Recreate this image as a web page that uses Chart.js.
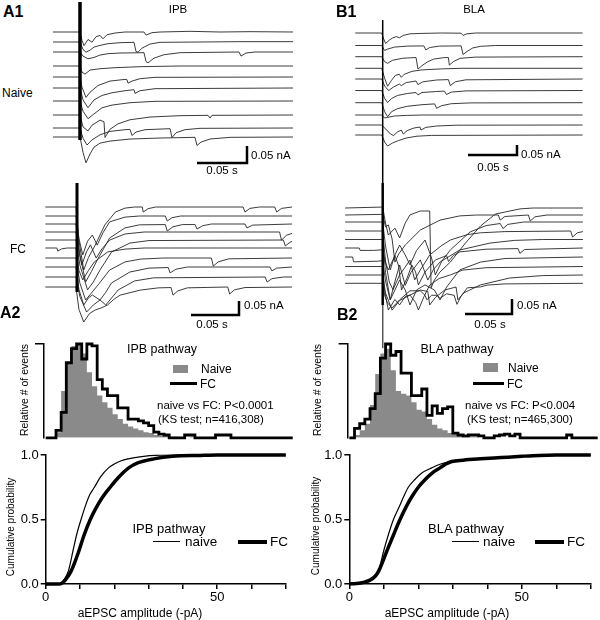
<!DOCTYPE html>
<html><head><meta charset="utf-8">
<script src="https://cdn.jsdelivr.net/npm/chart.js@4.4.0/dist/chart.umd.min.js"></script>
<style>
html,body{margin:0;padding:0;background:#fff}
body{width:600px;height:620px;position:relative;overflow:hidden;font-family:"Liberation Sans",Arial,Helvetica,sans-serif;color:#000}
canvas{position:absolute}
.t{position:absolute;white-space:nowrap;line-height:1}
.k{position:absolute}
</style></head><body>
<script>
// ===================== DATA =====================
// Traces: [time (ms, stimulus at 0), current (pA)]
const ipbNaiveTraces = [
 [[-27,0],[0,0],[2,-25],[4,-40],[8,-22],[12,-30],[16,-14],[20,-10],[23,-20],[27,-8],[35,-3],[45,0],[64,0],[66,-9],[72,-2],[80,0],[110,2],[140,0],[170,1],[213,0]],
 [[-27,0],[0,0],[3,-22],[6,-30],[10,-24],[14,-15],[20,-10],[28,-5],[40,-2],[54,-1],[56,-28],[58,-30],[62,-18],[70,-6],[80,-1],[120,0],[160,1],[213,1]],
 [[-27,0],[0,0],[3,-12],[8,-20],[14,-16],[20,-9],[28,-5],[40,-3],[64,-2],[66,-28],[68,-32],[74,-18],[84,-8],[100,-2],[159,0],[161,-12],[166,-3],[175,0],[213,0]],
 [[-27,0],[0,0],[2,-18],[5,-24],[10,-12],[20,-8],[35,-5],[60,-2],[100,0],[213,0]],
 [[-27,0],[0,0],[2,-30],[6,-60],[10,-45],[18,-25],[30,-12],[45,-7],[47,-8],[48,-18],[52,-12],[60,-5],[75,-1],[213,0]],
 [[-27,0],[0,0],[3,-35],[8,-58],[14,-35],[22,-22],[32,-14],[45,-8],[54,-5],[55,-16],[60,-8],[75,-2],[213,0]],
 [[-27,0],[0,0],[3,-30],[8,-52],[14,-38],[22,-20],[32,-12],[50,-5],[75,-1],[213,0]],
 [[-27,0],[0,0],[3,-35],[8,-47],[12,-30],[20,-15],[24,-20],[25,-66],[30,-42],[38,-26],[50,-14],[70,-6],[100,-2],[128,-1],[130,-9],[132,-1],[213,0]],
 [[-27,0],[0,0],[3,-30],[7,-50],[12,-35],[20,-20],[30,-10],[45,-5],[50,-4],[52,-22],[56,-12],[65,-5],[90,-2],[92,-28],[96,-14],[105,-5],[120,-1],[213,0]],
 [[-27,0],[0,0],[3,-45],[6,-76],[10,-50],[14,-30],[20,-18],[30,-12],[50,-6],[80,-3],[115,-1],[117,-25],[121,-15],[130,-6],[150,-1],[213,0]]
];
const ipbFcTraces = [
 [[-33,0],[-1,0],[2,-120],[7,-225],[12,-180],[19,-136],[29,-64],[40,-18],[50,-4],[60,0],[68,0],[69,-18],[74,-6],[82,0],[173,0],[175,-18],[180,-5],[190,0],[206,0],[208,-18],[213,-5],[224,0]],
 [[-33,0],[-1,0],[2,-80],[6,-139],[11,-90],[16,-68],[21,-104],[27,-60],[34,-21],[50,-4],[65,0],[92,0],[94,-18],[99,-6],[108,0],[224,0]],
 [[-33,0],[-1,0],[3,-110],[9,-207],[15,-170],[21,-129],[34,-50],[50,-14],[65,-3],[92,-2],[94,-25],[100,-10],[110,-2],[123,-2],[125,-18],[131,-6],[140,0],[175,0],[177,-14],[183,-4],[224,0]],
 [[-33,0],[-1,0],[2,-70],[5,-118],[10,-70],[14,-46],[20,-93],[26,-60],[34,-29],[50,-7],[70,0],[211,0],[213,-29],[218,-12],[224,-5]],
 [[-33,0],[-1,0],[3,-90],[11,-178],[17,-150],[24,-107],[36,-43],[55,-11],[75,-2],[215,0],[217,-21],[222,-8],[224,-5]],
 [[-33,0],[-21,0],[-20,-11],[-16,-3],[-10,0],[-1,0],[2,-80],[6,-114],[12,-80],[18,-50],[32,-14],[50,-4],[70,0],[224,0]],
 [[-33,0],[-1,0],[3,-90],[9,-150],[15,-125],[22,-96],[34,-43],[50,-14],[66,-4],[90,0],[140,0],[142,-29],[147,-14],[158,-3],[224,0]],
 [[-33,0],[-1,0],[2,-80],[7,-136],[12,-110],[16,-100],[24,-118],[30,-90],[36,-57],[55,-18],[75,-4],[95,-2],[97,-21],[103,-8],[115,0],[201,0],[203,-14],[208,-4],[224,0]],
 [[-33,0],[-1,0],[3,-70],[10,-125],[17,-100],[24,-82],[30,-100],[36,-75],[43,-46],[60,-14],[80,-3],[196,0],[198,-18],[203,-6],[215,0],[224,0]],
 [[-33,0],[-1,0],[2,-80],[7,-125],[13,-95],[19,-82],[25,-75],[32,-64],[38,-45],[45,-29],[66,-11],[85,-3],[98,-2],[100,-29],[105,-14],[115,-3],[157,0],[159,-25],[164,-10],[175,-2],[224,0]]
];
const blaNaiveTraces = [
 [[-28,0],[-1,0],[1,-30],[3,-52],[7,-35],[10,-25],[14,-18],[17,-24],[21,-12],[28,-4],[40,-2],[60,0],[80,-1],[82,-12],[86,-4],[95,0],[204,0]],
 [[-28,0],[-1,0],[2,-25],[5,-18],[12,-8],[25,-3],[42,-2],[44,-22],[48,-10],[58,-3],[80,-2],[82,-45],[86,-30],[92,-12],[100,-4],[115,0],[204,0]],
 [[-28,0],[-1,0],[2,-25],[5,-33],[10,-18],[20,-8],[34,-4],[36,-62],[40,-45],[46,-25],[52,-12],[62,-5],[67,-4],[68,-42],[72,-25],[79,-8],[95,-2],[204,0]],
 [[-28,0],[-1,0],[2,-50],[5,-90],[9,-60],[13,-35],[17,-30],[19,-45],[22,-30],[30,-15],[40,-8],[60,-3],[80,0],[204,0]],
 [[-28,0],[-1,0],[2,-35],[6,-58],[11,-40],[17,-25],[19,-33],[24,-18],[34,-10],[36,-28],[41,-14],[55,-5],[67,-3],[69,-33],[74,-14],[85,-4],[204,0]],
 [[-28,0],[-1,0],[2,-40],[5,-60],[9,-40],[15,-25],[25,-15],[34,-10],[36,-22],[40,-10],[55,-5],[63,-3],[65,-20],[70,-8],[85,-2],[204,0]],
 [[-28,0],[-1,0],[2,-45],[5,-70],[9,-45],[15,-30],[25,-18],[40,-10],[53,-6],[55,-28],[60,-15],[70,-5],[90,-1],[204,0]],
 [[-28,0],[-1,0],[2,-15],[5,-12],[12,-5],[25,-2],[40,0],[204,0]],
 [[-28,0],[-1,0],[3,-20],[8,-45],[11,-53],[15,-35],[19,-25],[21,-45],[25,-28],[32,-15],[38,-10],[39,-25],[44,-12],[55,-5],[75,-1],[204,0]],
 [[-28,0],[-1,0],[2,-35],[5,-55],[10,-40],[16,-28],[24,-15],[35,-6],[50,-2],[204,0]]
];
const blaFcTraces = [
 [[-40,0],[-2,3],[0,3],[3,-50],[6,-90],[13,-67],[18,-100],[24,-50],[29,-23],[40,-10],[50,-10],[51.5,-266],[55,-240],[61,-213],[72,-180],[88,-117],[104,-60],[120,-20],[146,-3],[160,0],[213,0]],
 [[-40,0],[-2,2],[0,2],[3,-40],[6,-33],[10,-80],[13,-157],[17,-130],[24,-100],[40,-50],[61,-17],[82,-3],[100,0],[123,0],[125,-17],[130,-5],[155,0],[157,-20],[162,-6],[175,0],[213,0]],
 [[-40,0],[0,0],[3,-80],[8,-160],[13,-110],[18,-77],[24,-110],[29,-143],[36,-95],[45,-60],[52,-120],[56,-176],[63,-130],[72,-93],[93,-33],[110,-12],[125,-5],[128,-22],[133,-8],[150,0],[213,0]],
 [[-40,0],[0,0],[3,-100],[7,-170],[11,-196],[18,-146],[24,-120],[29,-97],[34,-163],[40,-130],[50,-80],[62,-50],[72,-30],[90,-12],[104,-6],[130,-2],[200,0],[202,-20],[207,-6],[213,-2]],
 [[-40,0],[0,0],[3,-110],[8,-201],[13,-140],[18,-85],[24,-153],[30,-110],[40,-68],[48,-135],[54,-100],[61,-75],[82,-35],[114,-12],[140,-3],[170,0],[213,0]],
 [[-40,0],[-25,0],[-24,-8],[-10,-8],[0,-6],[3,-50],[6,-73],[13,-25],[17,-60],[20,-140],[26,-100],[31,-57],[35,-80],[38,-123],[45,-80],[56,-40],[68,-25],[70,-45],[75,-25],[82,-13],[110,-4],[144,-2],[146,-18],[151,-5],[213,0]],
 [[-40,0],[-32,0],[-31,-16],[-5,-14],[0,-12],[3,-80],[8,-143],[13,-110],[18,-77],[24,-110],[29,-160],[36,-110],[45,-93],[55,-110],[61,-143],[68,-100],[82,-43],[104,-17],[130,-5],[213,0]],
 [[-40,0],[0,0],[2,-80],[6,-145],[13,-110],[18,-128],[24,-100],[29,-95],[35,-120],[38,-145],[44,-100],[50,-62],[60,-40],[72,-28],[85,-12],[110,-4],[213,0]],
 [[-40,0],[0,0],[3,-60],[10,-117],[18,-85],[29,-67],[40,-50],[48,-55],[50,-100],[56,-75],[66,-50],[78,-40],[80,-83],[86,-60],[104,-33],[135,-10],[170,-2],[213,0]],
 [[-40,0],[0,0],[2,-40],[5,-65],[10,-82],[18,-55],[29,-25],[40,-25],[45,-40],[47,-55],[52,-40],[58,-40],[61,-50],[68,-35],[76,-40],[79,-70],[83,-45],[90,-15],[104,-12],[111,-6],[130,-2],[213,0]]
];
// stimulus artifact extent (pA above first trace baseline, pA relative to last trace baseline[, tail])
const ipbNaiveArtifact = [88, -9];
const ipbFcArtifact = [86, -18];
const blaNaiveArtifact = [65, -240];
const blaFcArtifact = [83, -72, -216];
// scale bars
const scaleBarMs = 50, scaleBarPA = 50;
const scaleBarTimeLabel = '0.05 s', scaleBarCurrentLabel = '0.05 nA';

// Amplitude histograms (relative # of events, 1.5 pA bins from 0 pA)
const histBinWidth = 1.5;
const ipbHistNaive = [0,0,0,0.06,0.5,0.8,0.98,1.0,0.9,0.7,0.55,0.45,0.38,0.32,0.25,0.2,0.15,0.12,0.1,0.08,0.06,0.05,0.03,0.02,0.02,0.01,0.01,0,0,0.01,0,0,0,0,0,0,0,0,0,0,0,0,0,0,0,0,0,0];
const ipbHistFC    = [0,0,0,0.08,0.27,0.8,0.95,1.0,0.84,1.0,0.98,0.62,0.52,0.45,0.45,0.32,0.32,0.2,0.2,0.18,0.16,0.13,0.06,0.04,0.03,0,0,0,0.03,0.03,0,0,0,0,0.03,0.03,0.03,0,0,0,0,0,0,0,0,0,0,0];
const blaHistNaive = [0,0,0.03,0.08,0.15,0.35,0.68,0.9,0.95,0.72,0.5,0.47,0.45,0.38,0.3,0.28,0.2,0.14,0.1,0.08,0.05,0.04,0.03,0.02,0.01,0.01,0,0,0,0,0,0,0,0,0,0,0,0,0,0,0,0,0,0,0,0,0,0];
const blaHistFC    = [0,0,0.1,0.15,0.2,0.31,0.47,0.85,1.0,0.88,0.92,0.69,0.69,0.45,0.45,0.52,0.24,0.34,0.26,0.31,0.33,0.05,0.03,0.02,0.03,0.03,0.02,0,0,0.02,0.03,0.04,0.02,0.04,0,0,0,0,0,0,0,0,0,0.03,0,0,0,0];

// Cumulative probability curves: [amplitude (-pA), probability]
const ipbCumNaive = [[0,0],[3.5,0],[4.5,0.01],[5.5,0.04],[6.6,0.1],[7.9,0.25],[9,0.38],[10.3,0.5],[11.5,0.6],[12.8,0.69],[14.2,0.75],[16,0.83],[18.3,0.9],[20,0.93],[22,0.955],[24,0.97],[26,0.98],[28.6,0.99],[32,0.997],[40,1],[70,1]];
const ipbCumFC    = [[0,0],[4,0],[5,0.01],[6,0.04],[7.4,0.1],[8.5,0.17],[9.6,0.25],[11.2,0.38],[13,0.5],[14.5,0.58],[16.5,0.67],[18.8,0.75],[21,0.82],[24.2,0.9],[27,0.94],[31.5,0.97],[37,0.99],[45,0.997],[50,1],[70,1]];
const blaCumNaive = [[0,0],[2,0.005],[4,0.015],[6,0.03],[7.5,0.06],[8.5,0.1],[9.9,0.25],[11.3,0.38],[12.8,0.5],[14.5,0.6],[15.8,0.68],[17.1,0.75],[19,0.81],[21,0.86],[23.9,0.9],[26.5,0.93],[29.7,0.95],[33,0.96],[38,0.97],[44,0.98],[50,0.99],[55,0.997],[60,1],[70,1]];
const blaCumFC    = [[0,0],[2,0.004],[4,0.012],[6,0.03],[7.5,0.06],[8.5,0.1],[10.8,0.25],[12.8,0.38],[14.7,0.5],[16.5,0.6],[18.2,0.68],[20,0.75],[22,0.81],[24,0.86],[26.3,0.9],[28,0.93],[29.7,0.95],[33,0.96],[38,0.97],[44,0.98],[50,0.99],[55,0.997],[60,1],[70,1]];
const cumYTicks = [0, 0.5, 1];
const cumXTickLabels = [0, 50];
const cumXRange = [0, 70];
const histXMax = 72;

// ===================== LAYOUT =====================
const FONT = '"Liberation Sans", Arial, Helvetica, sans-serif';
Chart.defaults.font.family = FONT;
Chart.defaults.color = '#000';

function mkCanvas(r){
  const c = document.createElement('canvas');
  c.width = r.w; c.height = r.h;
  c.style.left = r.x + 'px'; c.style.top = r.y + 'px';
  c.style.width = r.w + 'px'; c.style.height = r.h + 'px';
  document.body.appendChild(c);
  return c;
}
function T(txt, x, y, o){
  o = o || {};
  const d = document.createElement('div');
  d.className = 't';
  d.textContent = txt;
  d.style.fontSize = (o.size || 12) + 'px';
  if (o.bold) d.style.fontWeight = 'bold';
  d.style.left = x + 'px'; d.style.top = y + 'px';
  let tr = o.anchor === 'c' ? 'translate(-50%,-50%)' : (o.anchor === 'r' ? 'translate(-100%,-50%)' : 'translate(0,-50%)');
  if (o.rot) tr = 'translate(-50%,-50%) rotate(' + o.rot + 'deg)';
  d.style.transform = tr;
  document.body.appendChild(d);
}
function K(x, y, w, h, bg){
  const d = document.createElement('div');
  d.className = 'k';
  d.style.left = x + 'px'; d.style.top = y + 'px';
  d.style.width = w + 'px'; d.style.height = h + 'px';
  d.style.background = bg;
  document.body.appendChild(d);
}
const baseOpts = () => ({
  responsive: false, animation: false, events: [],
  plugins: { legend: { display: false }, tooltip: { enabled: false } }
});

function tracePanel(p, traces, art){
  const r = p.rect;
  const xmin = (r.x - p.stimX) / p.pxPerMs, xmax = xmin + r.w / p.pxPerMs;
  const ymin = -r.h / p.pxPerPA, ymax = 0;
  const off = py => -(py - r.y) / p.pxPerPA;
  const line = (data, color, w, order) => ({ data, borderColor: color, borderWidth: w, pointRadius: 0, tension: 0, fill: false, order, clip: false });
  const ds = traces.map((tr, i) => line(tr.map(([t, v]) => ({ x: t, y: v + off(p.base[i]) })), '#262626', 0.9, 2));
  const first = off(p.base[0]), last = off(p.base[p.base.length - 1]);
  ds.push(line([{ x: 0, y: first + art[0] }, { x: 0, y: last + art[1] }], '#000', p.artW, 0));
  if (art.length > 2) ds.push(line([{ x: 0, y: last + art[1] }, { x: 0, y: last + art[2] }], '#555', 1, 1));
  const bx = (p.bar.x - p.stimX) / p.pxPerMs, by = off(p.bar.y);
  ds.push(line([{ x: bx - scaleBarMs, y: by }, { x: bx, y: by }, { x: bx, y: by + scaleBarPA }], '#000', 2.5, 0));
  const o = baseOpts();
  o.layout = { padding: 0 };
  o.scales = { x: { type: 'linear', min: xmin, max: xmax, display: false }, y: { type: 'linear', min: ymin, max: ymax, display: false } };
  new Chart(mkCanvas(r), { type: 'line', data: { datasets: ds }, options: o });
}

tracePanel({ rect: { x: 40, y: 0, w: 260, h: 180 }, stimX: 80, pxPerMs: 1.0, pxPerPA: 0.34, artW: 3.5,
  base: [32, 42, 52, 66, 77, 88, 101, 115, 128, 137], bar: { x: 247, y: 163 } }, ipbNaiveTraces, ipbNaiveArtifact);
tracePanel({ rect: { x: 30, y: 175, w: 270, h: 160 }, stimX: 77, pxPerMs: 0.96, pxPerPA: 0.28, artW: 3,
  base: [207, 216, 224, 232, 240, 248, 258, 267, 277, 287], bar: { x: 239, y: 315 } }, ipbFcTraces, ipbFcArtifact);
tracePanel({ rect: { x: 340, y: 0, w: 260, h: 183 }, stimX: 382.7, pxPerMs: 0.98, pxPerPA: 0.2, artW: 1.5,
  base: [33, 45.5, 56.7, 68.3, 79, 90.5, 102.7, 115, 125, 135], bar: { x: 517, y: 155 } }, blaNaiveTraces, blaNaiveArtifact);
tracePanel({ rect: { x: 330, y: 175, w: 270, h: 178 }, stimX: 382.7, pxPerMs: 0.94, pxPerPA: 0.3, artW: 2.5,
  base: [208, 215, 222, 231, 239.5, 248, 257, 266.5, 275, 283.3], bar: { x: 512, y: 314 } }, blaFcTraces, blaFcArtifact);

function histPts(vals){
  const pts = vals.map((v, k) => ({ x: k * histBinWidth, y: v }));
  pts.push({ x: vals.length * histBinWidth, y: 0 });
  return pts;
}
function histPanel(r, yW, padR, naive, fc){
  const o = baseOpts();
  o.layout = { padding: { left: 0, right: padR, top: 9, bottom: 5 } };
  o.scales = {
    x: { type: 'linear', min: -0.5, max: histXMax, display: false },
    y: { type: 'linear', min: 0, max: 1,
      afterFit: s => { s.width = yW; },
      afterBuildTicks: s => { s.ticks = [{ value: 1 }]; },
      ticks: { callback: () => '', padding: 0 },
      grid: { display: true, drawOnChartArea: false, drawTicks: true, tickLength: 9, color: '#000', lineWidth: 1.5 },
      border: { display: true, color: '#000', width: 1.5 } }
  };
  new Chart(mkCanvas(r), { type: 'line', data: { datasets: [
    { data: histPts(fc), stepped: 'after', borderColor: '#000', borderWidth: 2.8, pointRadius: 0, fill: false, clip: false },
    { data: histPts(naive), stepped: 'after', borderColor: 'rgba(0,0,0,0)', borderWidth: 0, backgroundColor: '#8a8a8a', pointRadius: 0, fill: 'origin' }
  ] }, options: o });
}
histPanel({ x: 0, y: 335, w: 300, h: 110 }, 44, 7.3, ipbHistNaive, ipbHistFC);
histPanel({ x: 300, y: 335, w: 300, h: 110 }, 47.6, 2.3, blaHistNaive, blaHistFC);

function cumPanel(r, yW, padR, naive, fc){
  const o = baseOpts();
  o.layout = { padding: { left: 0, right: padR, top: 15, bottom: 0 } };
  const grid = { display: true, drawOnChartArea: false, drawTicks: true, tickLength: 5, color: '#000', lineWidth: 1.5 };
  const border = { display: true, color: '#000', width: 1.5 };
  o.scales = {
    x: { type: 'linear', min: cumXRange[0], max: cumXRange[1], afterFit: s => { s.height = 36; },
      ticks: { stepSize: 10, autoSkip: false, maxRotation: 0, padding: 1, font: { size: 13 }, color: '#000',
        callback: v => cumXTickLabels.includes(v) ? String(v) : '' }, grid, border },
    y: { type: 'linear', min: 0, max: 1, afterFit: s => { s.width = yW; },
      afterBuildTicks: s => { s.ticks = cumYTicks.map(v => ({ value: v })); },
      ticks: { padding: 2, font: { size: 13 }, color: '#000', callback: v => Number(v).toFixed(1) }, grid, border }
  };
  const ln = (d, w) => ({ data: d.map(([x, y]) => ({ x, y })), borderColor: '#000', borderWidth: w, pointRadius: 0, cubicInterpolationMode: 'monotone', fill: false, clip: false });
  new Chart(mkCanvas(r), { type: 'line', data: { datasets: [ln(fc, 3.5), ln(naive, 1.2)] }, options: o });
}
cumPanel({ x: 0, y: 440, w: 300, h: 180 }, 45.7, 14.2, ipbCumNaive, ipbCumFC);
cumPanel({ x: 300, y: 440, w: 300, h: 180 }, 49.3, 9.2, blaCumNaive, blaCumFC);

// ===================== TEXT =====================
T('A1', 3, 12, { size: 16, bold: true });
T('IPB', 178, 10, { size: 11.5, anchor: 'c' });
T('B1', 336, 12, { size: 16, bold: true });
T('BLA', 474, 10, { size: 11.5, anchor: 'c' });
T('Naive', 2, 93, { size: 12 });
T('FC', 10, 249, { size: 12 });
T('A2', 0, 313, { size: 16, bold: true });
T('B2', 337, 315, { size: 16, bold: true });
// scale bar labels
T(scaleBarCurrentLabel, 251, 156, { size: 11.5 });
T(scaleBarTimeLabel, 222, 171, { size: 11.5, anchor: 'c' });
T(scaleBarCurrentLabel, 244, 306, { size: 11.5 });
T(scaleBarTimeLabel, 212, 325, { size: 11.5, anchor: 'c' });
T(scaleBarCurrentLabel, 521, 155, { size: 11.5 });
T(scaleBarTimeLabel, 493, 168, { size: 11.5, anchor: 'c' });
T(scaleBarCurrentLabel, 517, 306, { size: 11.5 });
T(scaleBarTimeLabel, 490, 325, { size: 11.5, anchor: 'c' });
// histogram annotations
T('Relative # of events', 24, 390, { size: 10.5, rot: -90 });
T('Relative # of events', 317, 390, { size: 10.5, rot: -90 });
T('IPB pathway', 162, 349, { size: 12.5, anchor: 'c' });
T('BLA pathway', 457, 349, { size: 12.5, anchor: 'c' });
K(173, 365, 15, 8, '#8a8a8a'); T('Naive', 201, 369, { size: 12 });
K(170, 382, 27, 3, '#000'); T('FC', 200, 383.5, { size: 12 });
K(483, 363, 15, 9, '#8a8a8a'); T('Naive', 508, 368, { size: 12 });
K(473, 382, 31, 3, '#000'); T('FC', 507, 383.5, { size: 12 });
T('naive vs FC:  P<0.0001', 157, 405.5, { size: 11.5 });
T('(KS test; n=416,308)', 158, 419.5, { size: 11.5 });
T('naive vs FC:  P<0.004', 465, 405.5, { size: 11.5 });
T('(KS test; n=465,300)', 467, 419.5, { size: 11.5 });
// cumulative annotations
T('Cumulative probability', 11, 527, { size: 10, rot: -90 });
T('Cumulative probability', 316, 526, { size: 10, rot: -90 });
T('aEPSC amplitude (-pA)', 140, 613, { size: 12, anchor: 'c' });
T('aEPSC amplitude (-pA)', 447, 613, { size: 12, anchor: 'c' });
T('IPB pathway', 169, 528, { size: 13, anchor: 'c' });
T('BLA pathway', 466, 528, { size: 13, anchor: 'c' });
K(153, 541, 27, 1.3, '#000'); T('naive', 185, 542, { size: 13.5 });
K(238, 540, 29, 3.5, '#000'); T('FC', 270, 542, { size: 13.5 });
K(452, 541, 27, 1.3, '#000'); T('naive', 483, 542, { size: 13.5 });
K(535, 540, 29, 3.5, '#000'); T('FC', 567, 542, { size: 13.5 });
</script>
</body></html>
